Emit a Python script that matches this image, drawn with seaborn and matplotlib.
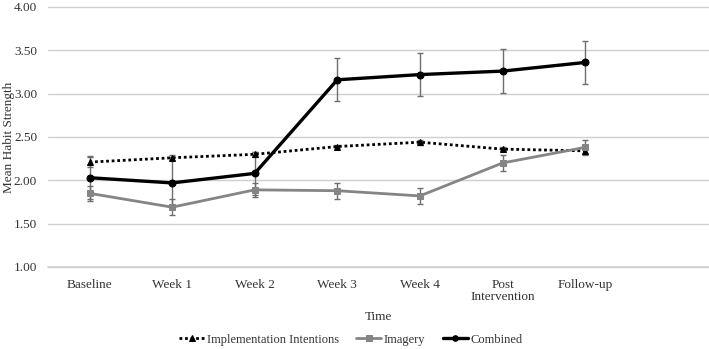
import numpy as np
import pandas as pd
import matplotlib
matplotlib.use('Agg')
import matplotlib.pyplot as plt
import seaborn as sns

# data
time_points = ['Baseline', 'Week 1', 'Week 2', 'Week 3', 'Week 4',
               'Post\nIntervention', 'Follow-up']
impl_mean = [2.21, 2.26, 2.30, 2.39, 2.44, 2.36, 2.34]
impl_err = [0.06, 0.03, 0.03, 0.02, 0.03, 0.02, 0.04]
imagery_mean = [1.85, 1.69, 1.89, 1.88, 1.82, 2.20, 2.38]
imagery_err = [0.09, 0.09, 0.08, 0.09, 0.09, 0.09, 0.09]
combined_mean = [2.03, 1.97, 2.08, 3.16, 3.22, 3.26, 3.36]
combined_err = [0.25, 0.30, 0.25, 0.25, 0.25, 0.25, 0.25]

series_names = ['Implementation Intentions', 'Imagery', 'Combined']

df = pd.DataFrame({
    'Time': np.tile(np.arange(len(time_points)), 3),
    'Mean': impl_mean + imagery_mean + combined_mean,
    'Err': impl_err + imagery_err + combined_err,
    'Group': np.repeat(series_names, len(time_points)),
})

sns.set_style('white')
plt.rcParams['font.family'] = ['Liberation Serif', 'DejaVu Serif']

fig = plt.figure(figsize=(7.09, 3.49), dpi=100)
ax = fig.add_axes([0.068, 0.235, 0.932, 0.745])

colors = {'Implementation Intentions': 'black', 'Imagery': '#858585', 'Combined': 'black'}
markers = {'Implementation Intentions': '^', 'Imagery': 's', 'Combined': 'o'}
styles = {'Implementation Intentions': (0, (1, 1)), 'Imagery': '-', 'Combined': '-'}
widths = {'Implementation Intentions': 2.0, 'Imagery': 2.0, 'Combined': 2.4}

# error bars first (grey)
for name in series_names:
    sub = df[df['Group'] == name]
    ax.errorbar(sub['Time'], sub['Mean'], yerr=sub['Err'], fmt='none',
                ecolor='#6e6e6e', elinewidth=1.0, capsize=2.5, capthick=1.0, zorder=2)

for name in series_names:
    sub = df[df['Group'] == name]
    sns.lineplot(data=sub, x='Time', y='Mean', ax=ax, color=colors[name],
                 marker=markers[name], markersize=5, markeredgecolor=colors[name],
                 linestyle=styles[name], linewidth=widths[name], label=name, zorder=3)

ax.set_xlim(-0.5, 7.5)
ax.set_ylim(1.0, 4.0)
yt = np.arange(1.0, 4.01, 0.5)
ax.set_yticks(yt)
ax.set_yticklabels([f'{v:.2f}' for v in yt], fontsize=9.5, color='#333333')
ax.set_xticks(range(len(time_points)))
ax.set_xticklabels(time_points, fontsize=9.5, color='#333333', linespacing=1.0)
ax.tick_params(axis='x', length=0, pad=9)
ax.tick_params(axis='y', length=0, pad=8)
ax.grid(axis='y', color='#cfcfcf', linewidth=1.0)
for gl in ax.get_ygridlines():
    gl.set_clip_on(False)
ax.axhline(1.0, color='#cfcfcf', linewidth=1.2, clip_on=False, zorder=0)
ax.set_axisbelow(True)
for s in ax.spines.values():
    s.set_visible(False)

ax.set_xlabel('Time', fontsize=9.5, color='#333333')
ax.xaxis.set_label_coords(0.5, -0.17)
ax.set_ylabel('Mean Habit Strength', fontsize=9.5, color='#333333')
ax.yaxis.set_label_coords(-0.051, 0.5)

ax.legend(loc='center', bbox_to_anchor=(0.458, -0.28), ncol=3, frameon=False,
          fontsize=9, handlelength=2.0, handletextpad=0.2, columnspacing=1.4,
          labelcolor='#333333', borderaxespad=0, borderpad=0, markerscale=0.8)

fig.savefig('out.png', dpi=100)
